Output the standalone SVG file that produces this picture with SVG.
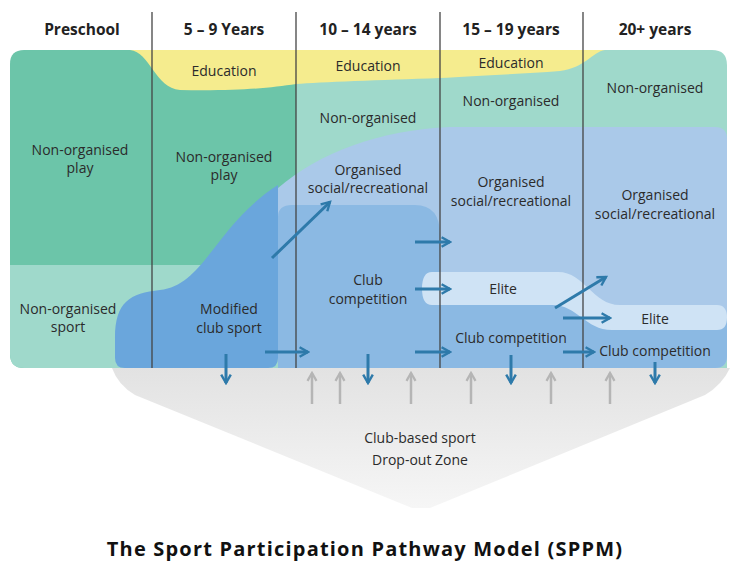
<svg xmlns="http://www.w3.org/2000/svg" width="749" height="566" viewBox="0 0 749 566">
<style>
text{font-family:"Open Sans","Noto Sans","Liberation Sans",sans-serif;font-size:14px;fill:#2b2b2b;text-anchor:middle}
.h{font-weight:bold;font-size:15.5px;fill:#222}
.t{font-weight:bold;font-size:20px;fill:#111;letter-spacing:1.2px}
.ba{stroke:#2e7aaa;stroke-width:3;fill:none;marker-end:url(#bh)}
.ga{stroke:#b5b5b5;stroke-width:2.5;fill:none;marker-end:url(#gh)}
.col{stroke:#444;stroke-width:1.3}
</style>
<defs>
<marker id="bh" viewBox="0 0 10 10" refX="8" refY="5" markerWidth="4" markerHeight="4.5" orient="auto" markerUnits="strokeWidth"><path d="M1,1 L8,5 L1,9" fill="none" stroke="#2e7aaa" stroke-width="2"/></marker>
<marker id="gh" viewBox="0 0 10 10" refX="8" refY="5" markerWidth="4.5" markerHeight="5" orient="auto" markerUnits="strokeWidth"><path d="M1,1 L8,5 L1,9" fill="none" stroke="#b5b5b5" stroke-width="2"/></marker>
<linearGradient id="gg" x1="0" y1="0" x2="0" y2="1"><stop offset="0" stop-color="#e2e2e2"/><stop offset="1" stop-color="#f6f6f6"/></linearGradient>
</defs>
<rect width="749" height="566" fill="#fff"/>
<g id="dropout">
<path d="M112,368 H730 Q722,385 705,395 L430,508 H412 L135,395 Q118,385 112,368 Z" fill="url(#gg)"/>
<text x="420" y="443">Club-based sport</text>
<text x="420" y="465">Drop-out Zone</text>
</g>
<g id="regions">
<path d="M296,50 H712 Q727,50 727,65 V368 H296 Z" fill="#9fd9cb"/>
<path d="M24,50 H296 V368 H24 Q10,368 10,354 V64 Q10,50 24,50 Z" fill="#6cc5a9"/>
<path d="M10,265 H296 V368 H24 Q10,368 10,354 Z" fill="#9fd9cb"/>
<path d="M130,50 H605 C592,52 585,68 560,71 C520,74 470,76 440,78 C380,80 320,82 296,84 C270,88 240,91 180,90 C155,88 150,52 130,50 Z" fill="#f5ec8e"/>
<path d="M278,368 V188 C320,152 380,130 450,127 H715 Q727,127 727,139 V356 Q727,368 715,368 Z" fill="#aac9e9"/>
<path d="M278,368 V217 Q278,205 292,205 H415 Q440,205 440,235 V290 H583 V318 H727 V356 Q727,368 715,368 Z" fill="#8bb9e3"/>
<path d="M432,272 H558 C585,272 592,305 620,305 H717 Q727,305 727,317.5 Q727,330 717,330 H612 C585,330 578,305 552,305 H432 Q422,305 422,288.5 Q422,272 432,272 Z" fill="#cfe3f5"/>
<path d="M115,338 C115,302 130,293 160,290 C205,285 215,225 278,185 V358 Q278,368 268,368 H125 Q115,368 115,358 Z" fill="#6aa6dc"/>
</g>
<g id="columns">
<line class="col" x1="152" y1="12" x2="152" y2="368"/>
<line class="col" x1="296" y1="12" x2="296" y2="368"/>
<line class="col" x1="440" y1="12" x2="440" y2="368"/>
<line class="col" x1="583" y1="12" x2="583" y2="368"/>
</g>
<g id="headers">
<text class="h" x="82" y="35">Preschool</text>
<text class="h" x="224" y="35">5 – 9 Years</text>
<text class="h" x="368" y="35">10 – 14 years</text>
<text class="h" x="511" y="35">15 – 19 years</text>
<text class="h" x="655" y="35">20+ years</text>
</g>
<g id="labels">
<text x="224" y="76">Education</text>
<text x="368" y="71">Education</text>
<text x="511" y="68">Education</text>
<text x="368" y="123">Non-organised</text>
<text x="511" y="106">Non-organised</text>
<text x="655" y="93">Non-organised</text>
<text x="80" y="155">Non-organised</text><text x="80" y="173">play</text>
<text x="224" y="162">Non-organised</text><text x="224" y="180">play</text>
<text x="68" y="314">Non-organised</text><text x="68" y="332">sport</text>
<text x="229" y="314">Modified</text><text x="229" y="333">club sport</text>
<text x="368" y="175">Organised</text><text x="368" y="193">social/recreational</text>
<text x="511" y="187">Organised</text><text x="511" y="206">social/recreational</text>
<text x="655" y="200">Organised</text><text x="655" y="219">social/recreational</text>
<text x="368" y="285">Club</text><text x="368" y="304">competition</text>
<text x="503" y="294">Elite</text>
<text x="655" y="324">Elite</text>
<text x="511" y="343">Club competition</text>
<text x="655" y="356">Club competition</text>
</g>
<g id="connectors">
<line class="ba" x1="272" y1="258" x2="330" y2="202"/>
<line class="ba" x1="265" y1="352" x2="308" y2="352"/>
<line class="ba" x1="226" y1="354" x2="226" y2="383"/>
<line class="ba" x1="368" y1="354" x2="368" y2="383"/>
<line class="ba" x1="415" y1="242" x2="450" y2="242"/>
<line class="ba" x1="415" y1="289" x2="450" y2="289"/>
<line class="ba" x1="415" y1="352" x2="450" y2="352"/>
<line class="ba" x1="555" y1="308" x2="606" y2="277"/>
<line class="ba" x1="563" y1="318" x2="610" y2="318"/>
<line class="ba" x1="563" y1="352" x2="594" y2="352"/>
<line class="ba" x1="511" y1="355" x2="511" y2="383"/>
<line class="ba" x1="655" y1="362" x2="655" y2="383"/>
<line class="ga" x1="312" y1="404" x2="312" y2="373"/>
<line class="ga" x1="340" y1="404" x2="340" y2="373"/>
<line class="ga" x1="411" y1="404" x2="411" y2="373"/>
<line class="ga" x1="471" y1="404" x2="471" y2="373"/>
<line class="ga" x1="551" y1="404" x2="551" y2="373"/>
<line class="ga" x1="610" y1="404" x2="610" y2="373"/>
</g>
<text class="t" x="365" y="556">The Sport Participation Pathway Model (SPPM)</text>
</svg>
